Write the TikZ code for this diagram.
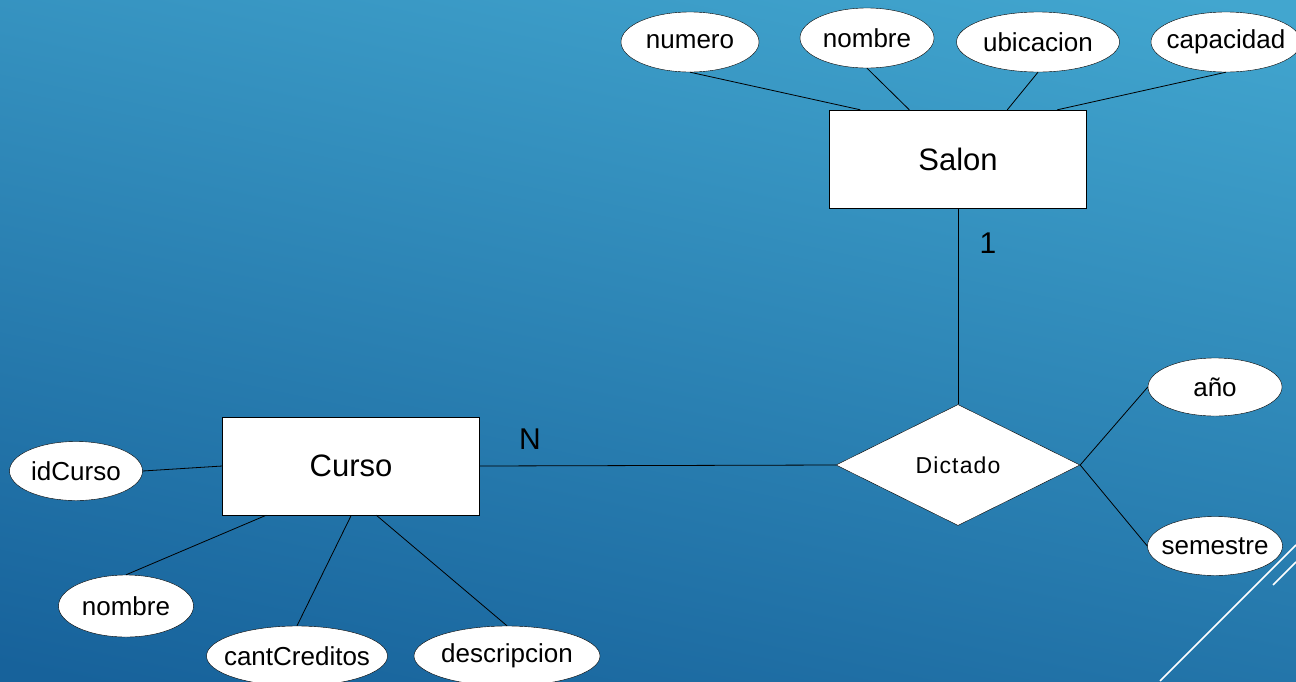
\documentclass[tikz,border=0pt]{standalone}
\usepackage{fontspec}
\setmainfont{Liberation Sans}
\usetikzlibrary{shapes.geometric}
\definecolor{bgtop}{HTML}{42A6CF}
\definecolor{bgbot}{HTML}{17629B}
\newcommand{\attrtxt}[1]{\makebox[0pt]{#1}}
\tikzset{
  attr/.style={ellipse, draw=black, fill=white, inner sep=0pt, font=\fontsize{26}{30}\selectfont},
  entity/.style={rectangle, draw=black, fill=white, inner sep=0pt, minimum width=257pt, minimum height=98pt, font=\fontsize{31}{36}\selectfont},
  rel/.style={diamond, draw=black, fill=white, inner sep=0pt, minimum width=244pt, minimum height=121pt, font=\fontsize{23}{26}\selectfont\addfontfeature{LetterSpace=5}},
  link/.style={draw=black, line width=0.8pt},
  card/.style={font=\fontsize{30}{34}\selectfont, inner sep=0pt},
  deco/.style={draw=white, line width=1.6pt}
}
\begin{document}
\begin{tikzpicture}[x=1pt, y=-1pt]
\useasboundingbox (0,0) rectangle (1296,681);
\shade[top color=bgtop, bottom color=bgbot, shading angle=-12] (-60,-60) rectangle (1356,741);

% entities
\node[entity] (salon) at (958,159) {Salon};
\node[entity] (curso) at (351,466) {Curso};
\node[rel] (dictado) at (958,465) {\attrtxt{Dictado}};

% Salon attributes
\node[attr, minimum width=138pt, minimum height=60pt] (numero) at (690,42) {\attrtxt{numero}};
\node[attr, minimum width=134pt, minimum height=60pt] (nombreS) at (867,38) {\attrtxt{nombre}};
\node[attr, minimum width=163pt, minimum height=60pt] (ubicacion) at (1038,42) {\attrtxt{ubicacion}};
\node[attr, minimum width=150pt, minimum height=60pt] (capacidad) at (1226,42) {\attrtxt{capacidad}};

% Dictado attributes
\node[attr, minimum width=134pt, minimum height=58pt] (anio) at (1215,387) {\attrtxt{año}};
\node[attr, minimum width=135pt, minimum height=59pt] (semestre) at (1215,546) {\attrtxt{semestre}};

% Curso attributes
\node[attr, minimum width=133pt, minimum height=59pt] (idcurso) at (76,471) {\attrtxt{idCurso}};
\node[attr, minimum width=135pt, minimum height=62pt] (nombreC) at (126,606) {\attrtxt{nombre}};
\node[attr, minimum width=181pt, minimum height=60pt] (cant) at (297,656) {\attrtxt{cantCreditos}};
\node[attr, minimum width=186pt, minimum height=60pt] (desc) at (507,656) {\attrtxt{descripcion}};

% cardinalities
\node[card] (uno) at (988,243) {1};
\node[card] (ene) at (530,439) {N};

% connectors
\draw[link] (numero.south) -- ([xshift=31pt]salon.north west);
\draw[link] (nombreS.south) -- ([xshift=80pt]salon.north west);
\draw[link] (ubicacion.south) -- ([xshift=178pt]salon.north west);
\draw[link] (capacidad.south) -- ([xshift=228pt]salon.north west);
\draw[link] (salon.south) -- (dictado.north);
\draw[link] (curso.east) -- (dictado.west);
\draw[link] (dictado.east) -- (anio.west);
\draw[link] (dictado.east) -- (semestre.west);
\draw[link] (idcurso.east) -- (curso.west);
\draw[link] (nombreC.north) -- ([xshift=44pt]curso.south west);
\draw[link] (cant.north) -- ([xshift=129pt]curso.south west);
\draw[link] (desc.north) -- ([xshift=154pt]curso.south west);

% decoration
\draw[deco] (1160,681) -- (1296,545);
\draw[deco] (1273,585) -- (1296,562);
\end{tikzpicture}
\end{document}
